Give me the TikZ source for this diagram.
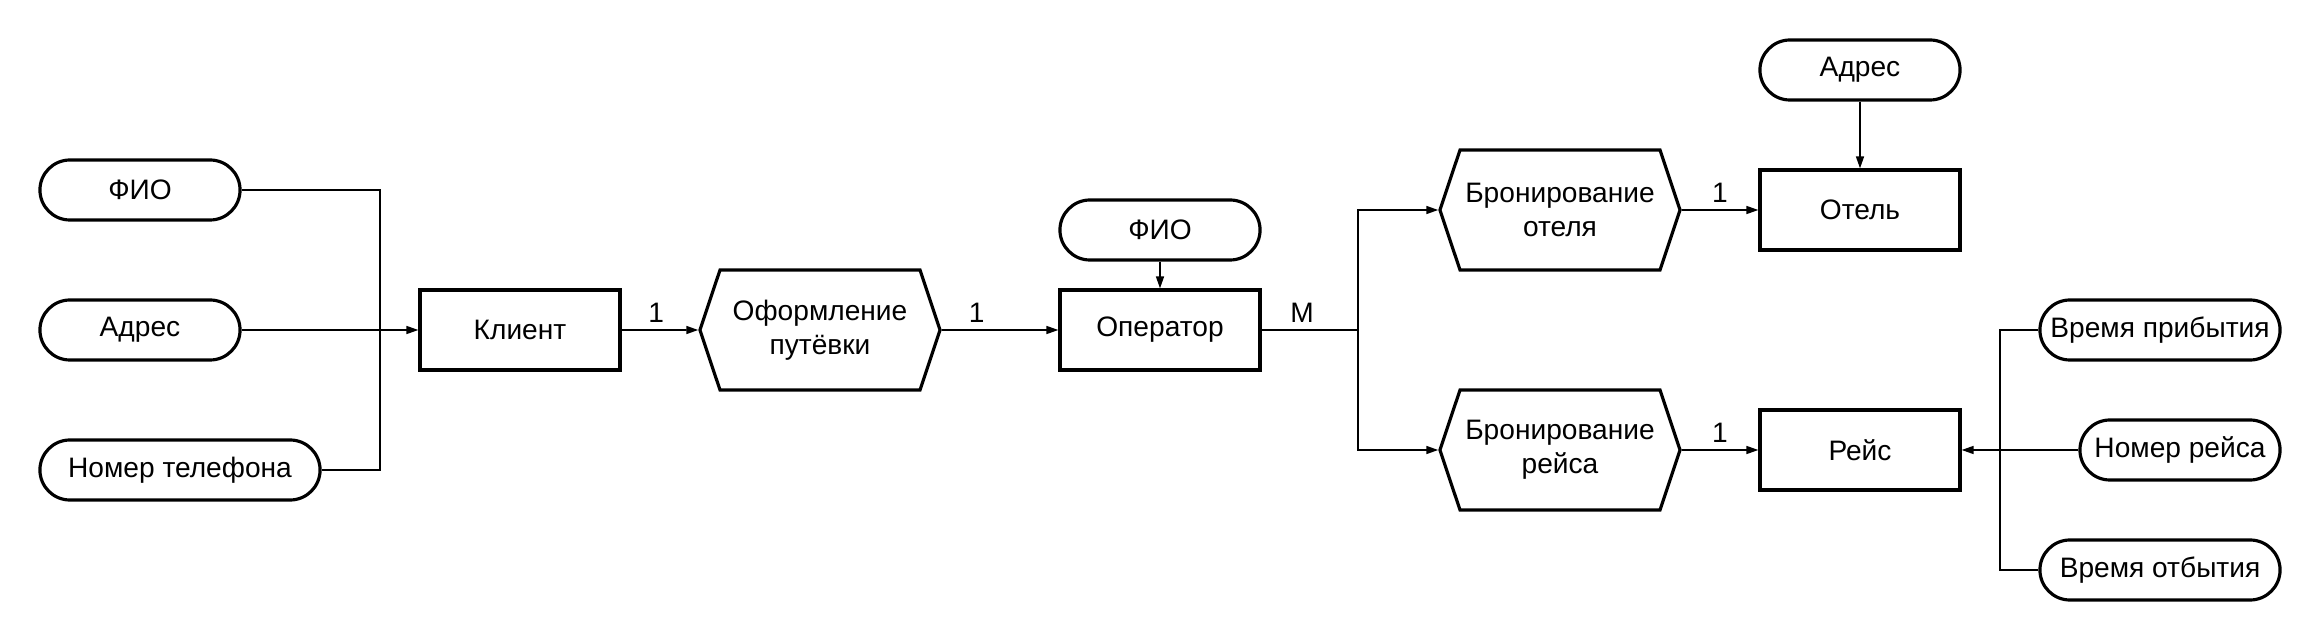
\documentclass[tikz,border=0pt]{standalone}
\usepackage{fontspec}
\setmainfont{Liberation Sans}
\usetikzlibrary{shapes.symbols, arrows.meta}

\begin{document}
\begin{tikzpicture}[x=0.01cm, y=-0.01cm,
    font=\fontsize{8}{9.6}\selectfont,
    attr/.style={draw, line width=0.9pt, rectangle, rounded corners=0.3cm,
        minimum width=2cm, minimum height=0.6cm, inner xsep=1pt},
    entity/.style={draw, line width=0.9pt, rectangle,
        minimum width=2cm, minimum height=0.8cm},
    relation/.style={draw, line width=0.9pt, signal, signal from=nowhere,
        signal to=west and east, signal pointer angle=143,
        minimum width=2.4cm, minimum height=1.2cm, align=center, inner sep=1pt},
    link/.style={line width=0.45pt},
    arr/.style={link, -{Triangle[length=1.2mm, width=0.8mm]}},
    card/.style={above=1pt, inner sep=1pt}
]
    \useasboundingbox (0,0) rectangle (2320,640);
    % Entities
    \node[entity] (client) at (520,330) {Клиент};
    \node[entity] (operator) at (1160,330) {Оператор};
    \node[entity] (hotel) at (1860,210) {Отель};
    \node[entity] (flight) at (1860,450) {Рейс};
    % Relations
    \node[relation] (tour) at (820,330) {Оформление\\путёвки};
    \node[relation] (bookhotel) at (1560,210) {Бронирование\\отеля};
    \node[relation] (bookflight) at (1560,450) {Бронирование\\рейса};
    % Attributes
    \node[attr] (clientname) at (140,190) {ФИО};
    \node[attr] (clientaddr) at (140,330) {Адрес};
    \node[attr, minimum width=2.8cm] (clientphone) at (180,470) {Номер телефона};
    \node[attr] (operatorname) at (1160,230) {ФИО};
    \node[attr] (hoteladdr) at (1860,70) {Адрес};
    \node[attr, minimum width=2.4cm] (arrival) at (2160,330) {Время прибытия};
    \node[attr] (flightno) at (2180,450) {Номер рейса};
    \node[attr, minimum width=2.4cm] (departure) at (2160,570) {Время отбытия};
    % Junction points
    \coordinate (jclient) at (380,330);
    \coordinate (joperator) at (1358,330);
    \coordinate (jflight) at (2000,450);
    % Client attributes
    \draw[link] (clientname.east) -| (jclient);
    \draw[link] (clientphone.east) -| (jclient);
    \draw[arr] (clientaddr.east) -- (client.west);
    % Main chain
    \draw[arr] (client) -- node[card, pos=0.45] {1} (tour);
    \draw[arr] (tour) -- node[card, pos=0.3] {1} (operator);
    \draw[arr] (operatorname) -- (operator);
    \draw[link] (operator.east) -- node[card, pos=0.42] {М} (joperator);
    \draw[arr] (joperator) |- (bookhotel.west);
    \draw[arr] (joperator) |- (bookflight.west);
    \draw[arr] (bookhotel) -- node[card] {1} (hotel);
    \draw[arr] (bookflight) -- node[card] {1} (flight);
    \draw[arr] (hoteladdr) -- (hotel);
    % Flight attributes
    \draw[link] (arrival.west) -| (jflight);
    \draw[link] (departure.west) -| (jflight);
    \draw[arr] (flightno.west) -- (flight.east);
\end{tikzpicture}
\end{document}
